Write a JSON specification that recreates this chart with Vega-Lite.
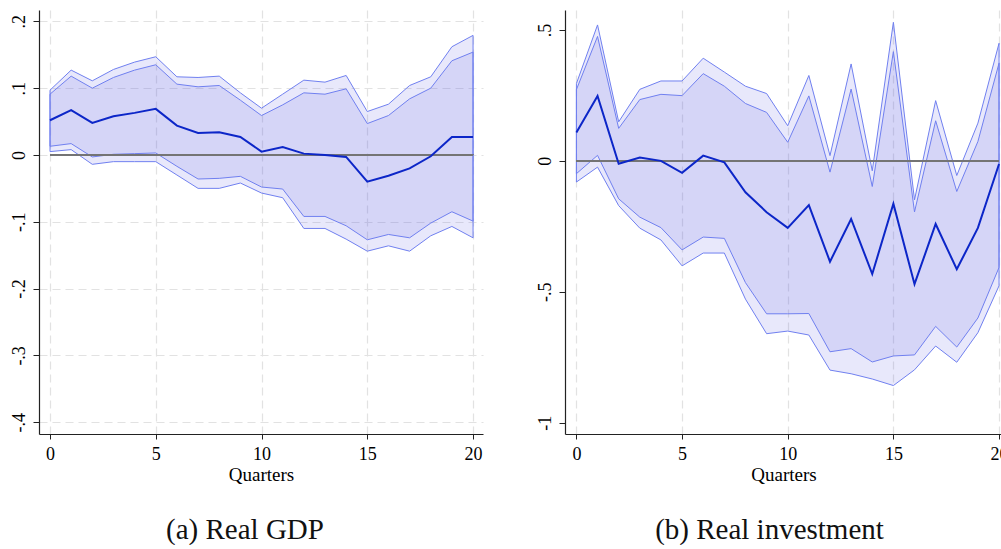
{
  "$schema": "https://vega.github.io/schema/vega-lite/v6.json",
  "background": "white",
  "padding": {"left": 10, "top": 10, "right": 0, "bottom": 0},
  "spacing": 53,
  "datasets": {
    "gdp": [
      {"q": 0, "est": 0.052, "hi90": 0.097, "hi68": 0.091, "lo68": 0.013, "lo90": 0.005},
      {"q": 1, "est": 0.067, "hi90": 0.127, "hi68": 0.118, "lo68": 0.017, "lo90": 0.008},
      {"q": 2, "est": 0.048, "hi90": 0.111, "hi68": 0.100, "lo68": -0.003, "lo90": -0.014},
      {"q": 3, "est": 0.058, "hi90": 0.128, "hi68": 0.116, "lo68": 0.001, "lo90": -0.010},
      {"q": 4, "est": 0.063, "hi90": 0.139, "hi68": 0.127, "lo68": 0.002, "lo90": -0.010},
      {"q": 5, "est": 0.069, "hi90": 0.147, "hi68": 0.135, "lo68": 0.003, "lo90": -0.010},
      {"q": 6, "est": 0.044, "hi90": 0.117, "hi68": 0.106, "lo68": -0.017, "lo90": -0.030},
      {"q": 7, "est": 0.033, "hi90": 0.116, "hi68": 0.102, "lo68": -0.036, "lo90": -0.050},
      {"q": 8, "est": 0.034, "hi90": 0.118, "hi68": 0.104, "lo68": -0.035, "lo90": -0.050},
      {"q": 9, "est": 0.027, "hi90": 0.093, "hi68": 0.082, "lo68": -0.032, "lo90": -0.042},
      {"q": 10, "est": 0.005, "hi90": 0.070, "hi68": 0.059, "lo68": -0.048, "lo90": -0.057},
      {"q": 11, "est": 0.012, "hi90": 0.091, "hi68": 0.075, "lo68": -0.051, "lo90": -0.064},
      {"q": 12, "est": 0.002, "hi90": 0.112, "hi68": 0.093, "lo68": -0.092, "lo90": -0.110},
      {"q": 13, "est": 0.000, "hi90": 0.109, "hi68": 0.091, "lo68": -0.092, "lo90": -0.110},
      {"q": 14, "est": -0.003, "hi90": 0.119, "hi68": 0.099, "lo68": -0.106, "lo90": -0.126},
      {"q": 15, "est": -0.040, "hi90": 0.065, "hi68": 0.047, "lo68": -0.127, "lo90": -0.144},
      {"q": 16, "est": -0.031, "hi90": 0.076, "hi68": 0.059, "lo68": -0.119, "lo90": -0.136},
      {"q": 17, "est": -0.020, "hi90": 0.104, "hi68": 0.084, "lo68": -0.124, "lo90": -0.144},
      {"q": 18, "est": -0.002, "hi90": 0.117, "hi68": 0.100, "lo68": -0.102, "lo90": -0.121},
      {"q": 19, "est": 0.027, "hi90": 0.162, "hi68": 0.141, "lo68": -0.085, "lo90": -0.107},
      {"q": 20, "est": 0.027, "hi90": 0.179, "hi68": 0.154, "lo68": -0.099, "lo90": -0.124}
    ],
    "inv": [
      {"q": 0, "est": 0.108, "hi90": 0.295, "hi68": 0.272, "lo68": -0.049, "lo90": -0.081},
      {"q": 1, "est": 0.248, "hi90": 0.519, "hi68": 0.475, "lo68": 0.021, "lo90": -0.024},
      {"q": 2, "est": -0.011, "hi90": 0.149, "hi68": 0.124, "lo68": -0.145, "lo90": -0.171},
      {"q": 3, "est": 0.013, "hi90": 0.273, "hi68": 0.234, "lo68": -0.215, "lo90": -0.257},
      {"q": 4, "est": 0.000, "hi90": 0.305, "hi68": 0.254, "lo68": -0.255, "lo90": -0.302},
      {"q": 5, "est": -0.046, "hi90": 0.305, "hi68": 0.249, "lo68": -0.340, "lo90": -0.401},
      {"q": 6, "est": 0.020, "hi90": 0.392, "hi68": 0.333, "lo68": -0.291, "lo90": -0.352},
      {"q": 7, "est": -0.006, "hi90": 0.339, "hi68": 0.285, "lo68": -0.296, "lo90": -0.352},
      {"q": 8, "est": -0.120, "hi90": 0.285, "hi68": 0.219, "lo68": -0.465, "lo90": -0.528},
      {"q": 9, "est": -0.196, "hi90": 0.257, "hi68": 0.185, "lo68": -0.584, "lo90": -0.660},
      {"q": 10, "est": -0.256, "hi90": 0.134, "hi68": 0.071, "lo68": -0.584, "lo90": -0.650},
      {"q": 11, "est": -0.169, "hi90": 0.326, "hi68": 0.248, "lo68": -0.583, "lo90": -0.665},
      {"q": 12, "est": -0.385, "hi90": 0.020, "hi68": -0.043, "lo68": -0.729, "lo90": -0.799},
      {"q": 13, "est": -0.222, "hi90": 0.370, "hi68": 0.274, "lo68": -0.717, "lo90": -0.813},
      {"q": 14, "est": -0.432, "hi90": -0.038, "hi68": -0.098, "lo68": -0.768, "lo90": -0.833},
      {"q": 15, "est": -0.164, "hi90": 0.529, "hi68": 0.417, "lo68": -0.745, "lo90": -0.858},
      {"q": 16, "est": -0.471, "hi90": -0.149, "hi68": -0.195, "lo68": -0.741, "lo90": -0.798},
      {"q": 17, "est": -0.241, "hi90": 0.230, "hi68": 0.153, "lo68": -0.632, "lo90": -0.707},
      {"q": 18, "est": -0.414, "hi90": -0.056, "hi68": -0.117, "lo68": -0.711, "lo90": -0.769},
      {"q": 19, "est": -0.256, "hi90": 0.144, "hi68": 0.074, "lo68": -0.600, "lo90": -0.656},
      {"q": 20, "est": -0.012, "hi90": 0.449, "hi68": 0.373, "lo68": -0.407, "lo90": -0.477}
    ]
  },
  "hconcat": [
    {
      "width": 444,
      "height": 424,
      "data": {"name": "gdp"},
      "title": {"text": "(a) Real GDP", "orient": "bottom", "anchor": "middle", "dx": -16, "offset": 32, "fontSize": 29, "font": "Liberation Serif", "fontWeight": "normal", "color": "#111"},
      "layer": [
        {
          "mark": {"type": "area", "fill": "#6464e6", "fillOpacity": 0.15, "stroke": "#7080f0", "strokeWidth": 1},
          "encoding": {
            "x": {"field": "q", "type": "quantitative", "title": "Quarters",
              "scale": {"domain": [-0.52, 20.47], "nice": false, "zero": false},
              "axis": {"values": [0, 5, 10, 15, 20], "grid": true, "labelFlush": false, "labelOverlap": false}},
            "y": {"field": "hi90", "type": "quantitative", "title": null,
              "scale": {"domain": [-0.4177, 0.217], "nice": false, "zero": false},
              "axis": {"values": [-0.4, -0.3, -0.2, -0.1, 0, 0.1, 0.2], "grid": true,
                "labelExpr": "datum.value == 0 ? '0' : (datum.value < 0 ? '-' : '') + replace(toString(abs(datum.value)), '0.', '.')"}},
            "y2": {"field": "lo90"}
          }
        },
        {
          "mark": {"type": "area", "fill": "#6464e6", "fillOpacity": 0.14, "stroke": "#7080f0", "strokeWidth": 1},
          "encoding": {
            "x": {"field": "q", "type": "quantitative", "title": "Quarters"},
            "y": {"field": "hi68", "type": "quantitative", "title": null},
            "y2": {"field": "lo68"}
          }
        },
        {
          "mark": {"type": "rule", "color": "#747474", "strokeWidth": 1.2},
          "encoding": {"x": {"datum": 0, "type": "quantitative"}, "x2": {"datum": 20}, "y": {"datum": 0, "type": "quantitative"}}
        },
        {
          "mark": {"type": "line", "color": "#0c26c8", "strokeWidth": 2},
          "encoding": {
            "x": {"field": "q", "type": "quantitative", "title": "Quarters"},
            "y": {"field": "est", "type": "quantitative", "title": null}
          }
        }
      ]
    },
    {
      "width": 437,
      "height": 424,
      "data": {"name": "inv"},
      "title": {"text": "(b) Real investment", "orient": "bottom", "anchor": "middle", "dx": -14, "offset": 32, "fontSize": 29, "font": "Liberation Serif", "fontWeight": "normal", "color": "#111"},
      "layer": [
        {
          "mark": {"type": "area", "fill": "#6464e6", "fillOpacity": 0.15, "stroke": "#7080f0", "strokeWidth": 1},
          "encoding": {
            "x": {"field": "q", "type": "quantitative", "title": "Quarters",
              "scale": {"domain": [-0.54, 20.14], "nice": false, "zero": false},
              "axis": {"values": [0, 5, 10, 15, 20], "grid": true, "labelFlush": false, "labelOverlap": false}},
            "y": {"field": "hi90", "type": "quantitative", "title": null,
              "scale": {"domain": [-1.043, 0.576], "nice": false, "zero": false},
              "axis": {"values": [-1, -0.5, 0, 0.5], "grid": false,
                "labelExpr": "datum.value == 0 ? '0' : (datum.value < 0 ? '-' : '') + replace(toString(abs(datum.value)), '0.', '.')"}},
            "y2": {"field": "lo90"}
          }
        },
        {
          "mark": {"type": "area", "fill": "#6464e6", "fillOpacity": 0.14, "stroke": "#7080f0", "strokeWidth": 1},
          "encoding": {
            "x": {"field": "q", "type": "quantitative", "title": "Quarters"},
            "y": {"field": "hi68", "type": "quantitative", "title": null},
            "y2": {"field": "lo68"}
          }
        },
        {
          "mark": {"type": "rule", "color": "#747474", "strokeWidth": 1.2},
          "encoding": {"x": {"datum": 0, "type": "quantitative"}, "x2": {"datum": 20}, "y": {"datum": 0, "type": "quantitative"}}
        },
        {
          "mark": {"type": "line", "color": "#0c26c8", "strokeWidth": 2},
          "encoding": {
            "x": {"field": "q", "type": "quantitative", "title": "Quarters"},
            "y": {"field": "est", "type": "quantitative", "title": null}
          }
        }
      ]
    }
  ],
  "config": {
    "view": {"stroke": null},
    "font": "Liberation Serif",
    "axis": {
      "labelFont": "Liberation Serif",
      "titleFont": "Liberation Serif",
      "labelFontSize": 18,
      "titleFontSize": 19,
      "titleFontWeight": "normal",
      "labelColor": "#000",
      "titleColor": "#000",
      "domainColor": "#222",
      "domainWidth": 1.2,
      "tickColor": "#222",
      "tickWidth": 1,
      "gridColor": "#e2e2e2",
      "gridDash": [8, 5],
      "gridWidth": 1.2
    },
    "axisX": {"tickSize": 5, "labelPadding": 6, "titlePadding": 2},
    "axisY": {"tickSize": 6, "labelPadding": 5, "labelAngle": -90, "labelAlign": "center", "labelBaseline": "bottom"}
  }
}
